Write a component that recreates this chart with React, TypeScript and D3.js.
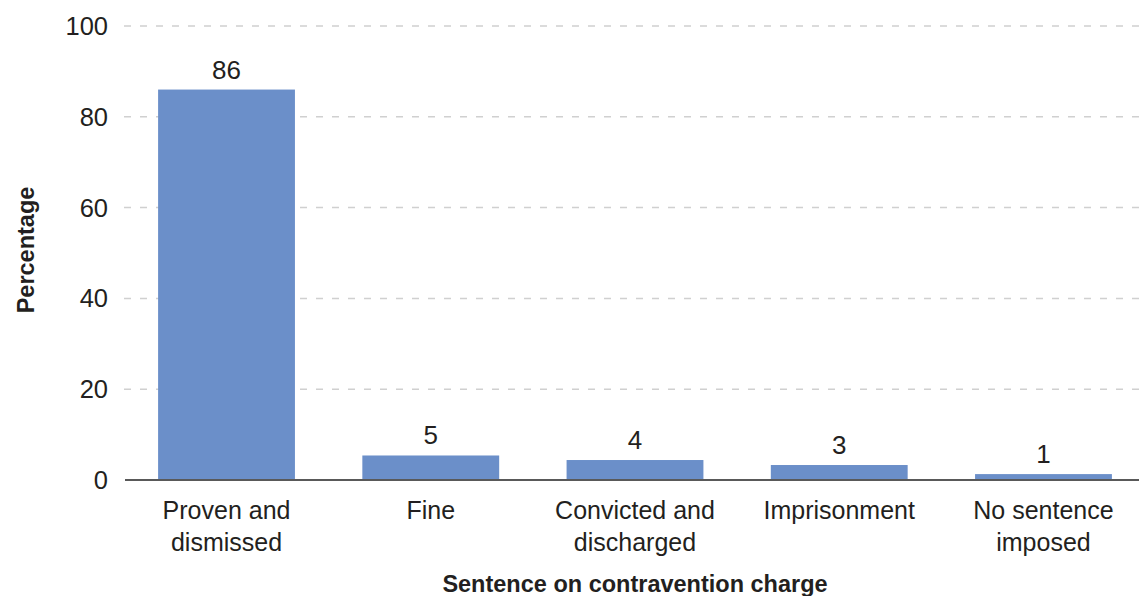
import React from "react";
import * as d3 from "d3";

const categories: string[][] = [
  ["Proven and", "dismissed"],
  ["Fine"],
  ["Convicted and", "discharged"],
  ["Imprisonment"],
  ["No sentence", "imposed"],
];
const values: number[] = [86, 5.4, 4.4, 3.3, 1.3];
const yTicks: number[] = [0, 20, 40, 60, 80, 100];
const xTitle = "Sentence on contravention charge";
const yTitle = "Percentage";

const W = 1139;
const H = 596;
const FONT = "'Liberation Sans', Arial, sans-serif";

export default function App() {
  const keys = categories.map((c) => c.join(" "));
  const x = d3
    .scaleBand<string>()
    .domain(keys)
    .range([124.4, 1145.6])
    .paddingInner(0.33)
    .paddingOuter(0.165);
  const y = d3.scaleLinear().domain([0, 100]).range([480, 26]);
  const fmt = d3.format(".0f");

  return (
    <svg
      width={W}
      height={H}
      style={{ position: "absolute", left: 0, top: 0, display: "block", background: "#fff" }}
      fontFamily={FONT}
    >
      {yTicks.map((t) => (
        <g key={t}>
          {t !== 0 && (
            <line
              x1={124}
              x2={W}
              y1={y(t)}
              y2={y(t)}
              stroke="#d0d0d0"
              strokeWidth={1.5}
              strokeDasharray="7 9"
            />
          )}
          <text
            x={108}
            y={y(t)}
            dy="0.35em"
            textAnchor="end"
            fontSize={25.5}
            fill="#231f20"
          >
            {t}
          </text>
        </g>
      ))}
      {values.map((v, i) => {
        const k = keys[i];
        const bx = x(k)!;
        const cx = bx + x.bandwidth() / 2;
        return (
          <g key={k}>
            <rect
              x={bx}
              y={y(v)}
              width={x.bandwidth()}
              height={y(0) - y(v)}
              fill="#6b8fc9"
            />
            <text
              x={cx}
              y={y(v) - 11}
              textAnchor="middle"
              fontSize={26}
              fill="#231f20"
            >
              {fmt(v)}
            </text>
            {categories[i].map((line, j) => (
              <text
                key={j}
                x={cx}
                y={519 + j * 32}
                textAnchor="middle"
                fontSize={25}
                fill="#231f20"
              >
                {line}
              </text>
            ))}
          </g>
        );
      })}
      <line x1={125} x2={W} y1={y(0)} y2={y(0)} stroke="#595959" strokeWidth={2} />
      <text
        x={635}
        y={592}
        textAnchor="middle"
        fontSize={23.5}
        fontWeight="bold"
        fill="#231f20"
      >
        {xTitle}
      </text>
      <text
        transform={`translate(34, 250) rotate(-90)`}
        textAnchor="middle"
        fontSize={23.5}
        fontWeight="bold"
        fill="#231f20"
      >
        {yTitle}
      </text>
    </svg>
  );
}
